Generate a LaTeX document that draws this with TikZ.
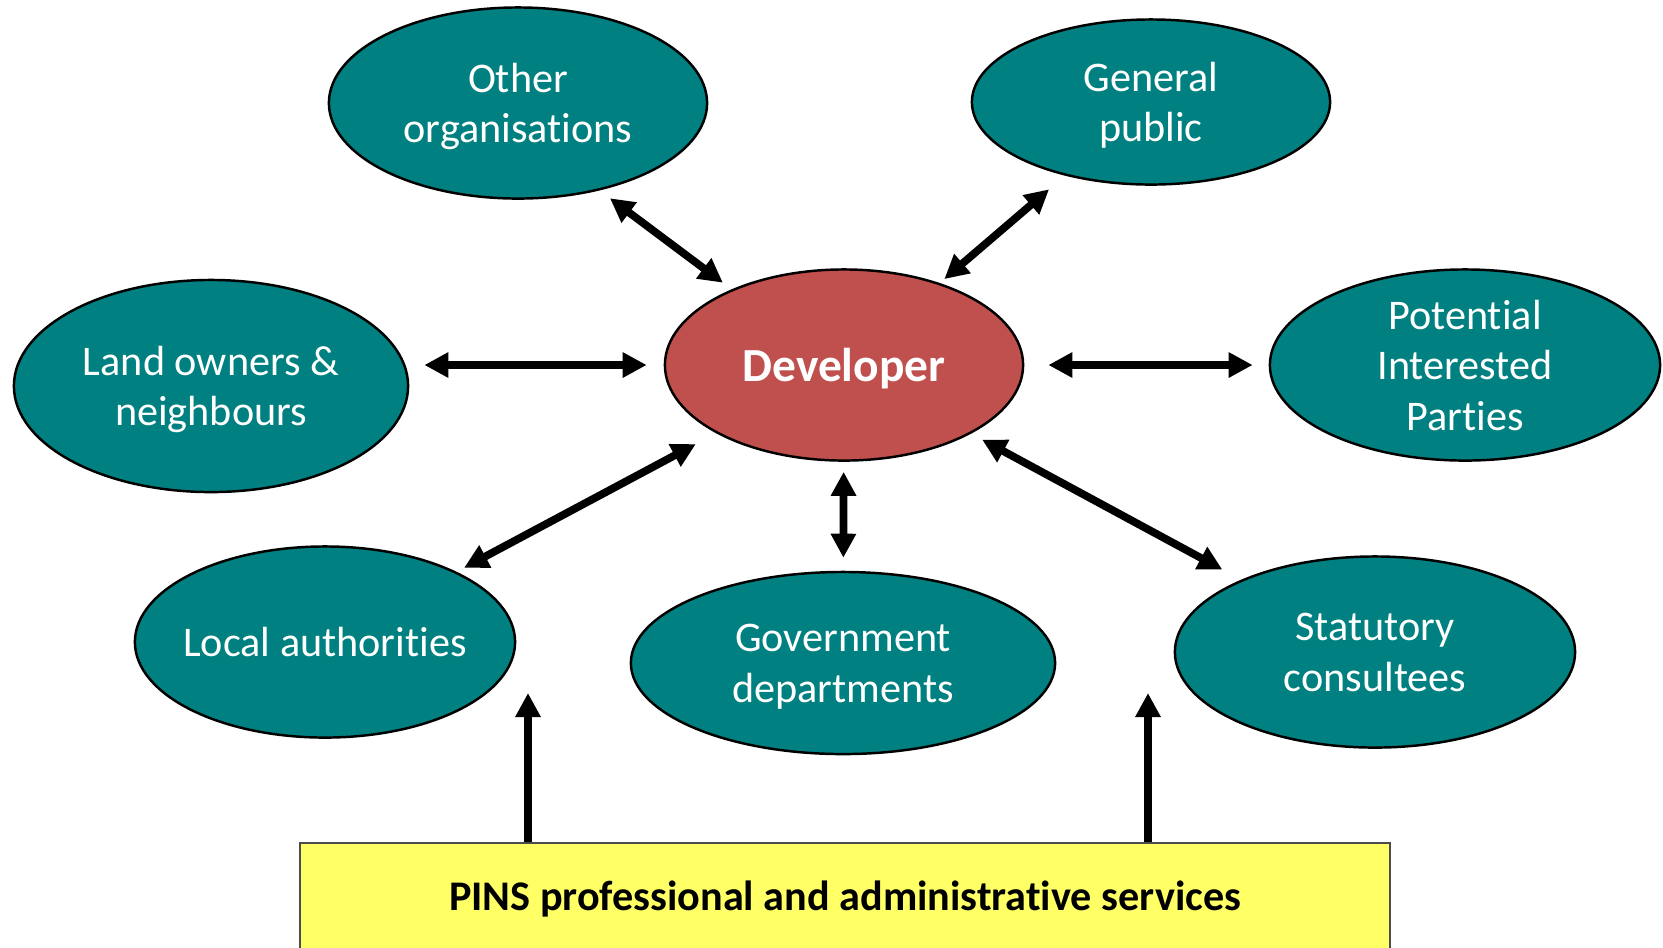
\documentclass[tikz,border=0pt]{standalone}
\usepackage{fontspec}
\setmainfont{Carlito}[Ligatures={NoCommon,NoRequired,NoContextual},Contextuals=NoAlternate]
\usetikzlibrary{shapes.geometric,arrows.meta}
\definecolor{partyteal}{RGB}{0,128,128}
\definecolor{devred}{RGB}{192,80,77}
\definecolor{pinsyellow}{RGB}{255,255,102}
\begin{document}
\begin{tikzpicture}[x=0.01cm,y=-0.01cm,
	party/.style={ellipse,draw=black,line width=0.7pt,fill=partyteal,text=white,inner sep=0pt,text depth=0pt,align=center,font=\fontsize{12}{14.4}\selectfont},
	link/.style={line width=2.2pt,>={Triangle[length=0.24cm,width=0.24cm]}}]

	\useasboundingbox (0,0) rectangle (1663,947);
	\clip (0,0) rectangle (1663,947);

	\node[party, fill=devred, font=\bfseries\fontsize{13.5}{16}\selectfont, minimum width=3.58cm, minimum height=1.91cm] (dev) at (844,365) {Developer};
	\node[party, minimum width=3.78cm, minimum height=1.91cm] (other) at (518,103) {Other\\organisations};
	\node[party, minimum width=3.58cm, minimum height=1.65cm] (public) at (1151,102) {General\\public};
	\node[party, minimum width=3.94cm, minimum height=2.12cm] (land) at (211,386) {Land owners \&\\neighbours};
	\node[party, minimum width=3.90cm, minimum height=1.91cm] (potential) at (1465,365) {Potential\\Interested\\Parties};
	\node[party, inner xsep=-4mm, minimum width=3.80cm, minimum height=1.91cm] (local) at (325,642) {Local authorities};
	\node[party, minimum width=4.24cm, minimum height=1.82cm] (gov) at (843,663) {Government\\departments};
	\node[party, minimum width=4.00cm, minimum height=1.91cm] (statutory) at (1375,652) {Statutory\\consultees};

	\node[draw=black!70, line width=0.6pt, fill=pinsyellow, minimum width=10.89cm, minimum height=1.12cm, font=\bfseries\fontsize{12}{14.4}\selectfont] (pins) at (845,899) {PINS professional and administrative services};

	\path[link,<->] (dev.146) edge[shorten <=0.11cm, shorten >=0.13cm] (other.-47);
	\path[link,<->] (dev) edge[shorten <=0.06cm, shorten >=0.21cm] (public);
	\path[link,<->] (land.east |- dev.west) edge[shorten <=0.15cm, shorten >=0.17cm] (dev.west);
	\path[link,<->] (dev) edge[shorten <=0.24cm, shorten >=0.16cm] (potential);
	\path[link,<->] (dev) edge[shorten <=0.23cm, shorten >=0.085cm] (local);
	\path[link,<->] (dev) edge[shorten <=0.10cm, shorten >=0.13cm] (gov);
	\path[link,<->] (dev) edge[shorten <=0.126cm, shorten >=0.215cm] (statutory);

	% PINS supports the two groups beside it
	\coordinate (local tip) at (528,693);
	\coordinate (statutory tip) at (1148,693);
	\path[link,->] (pins.north -| local tip) edge (local tip);
	\path[link,->] (pins.north -| statutory tip) edge (statutory tip);

\end{tikzpicture}
\end{document}
